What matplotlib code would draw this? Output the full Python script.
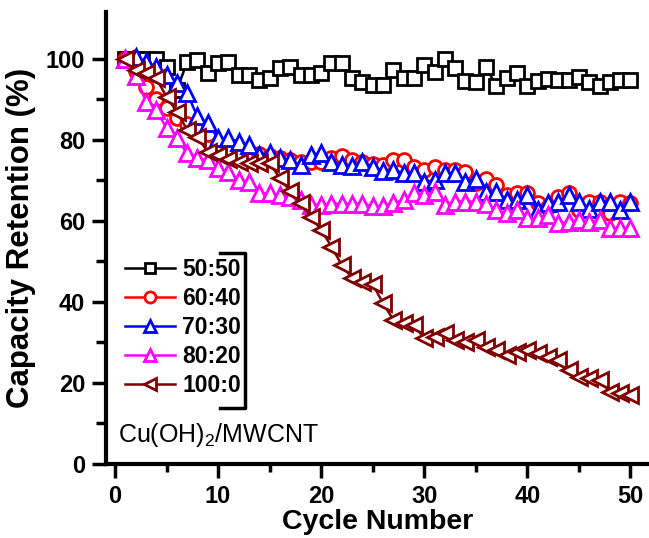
import numpy as np
import matplotlib
matplotlib.use("Agg")
import matplotlib.pyplot as plt

plt.rcParams['font.family'] = ['Liberation Sans', 'DejaVu Sans']
plt.rcParams['font.weight'] = 'bold'
plt.rcParams['mathtext.default'] = 'regular'

cycles = np.arange(1, 51)

r50_50 = [100, 100, 100, 100, 98.1, 92.3, 99.3, 99.8, 96.5, 98.9,
          99.3, 96.0, 96.0, 94.8, 95.2, 97.7, 98.1, 96.0, 96.0, 96.5,
          98.9, 98.9, 95.2, 94.4, 93.6, 93.6, 97.4, 95.4, 95.4, 98.5,
          96.9, 99.9, 97.7, 94.6, 94.4, 97.9, 93.3, 95.2, 96.5, 93.3,
          94.6, 95.0, 94.8, 94.8, 95.6, 94.2, 93.3, 94.2, 94.8, 94.8]
r60_40 = [100, 97, 93.2, 90, 88, 85.5, 84, 82.5, 81.5, 79,
          77.5, 77, 76.5, 76.5, 76, 75.5, 75, 74.5, 74.5, 74.5,
          75.5, 76, 75, 74.5, 74, 73.8, 75, 75, 73.4, 72.6,
          73.4, 72.5, 72.6, 72.2, 69.3, 70.3, 68.9, 66.5, 66.8, 66.8,
          64.4, 63.5, 66, 66.8, 62.7, 64.8, 64.8, 61.9, 64.8, 64.4]
r70_30 = [100, 100.5, 99.3, 98, 96, 94, 91.5, 85.8, 84.1, 80.4,
          80.4, 79.6, 78.8, 76.3, 76.8, 75.5, 75, 73.8, 76.3, 76.8,
          74.6, 73.8, 73.6, 74.6, 73.4, 72.4, 72.6, 71.8, 71.9, 69.7,
          70, 71.8, 71.9, 69.7, 70.3, 67.2, 67.2, 65.2, 65.2, 66.4,
          62.7, 64.4, 64.8, 66.4, 64.8, 62.9, 64.8, 64.8, 62.7, 64.8]
r80_20 = [100, 95.8, 89.5, 87.4, 82.9, 80.4, 76.7, 75.5, 75, 73,
          72.2, 70.1, 69.7, 66.8, 66.8, 66.4, 66, 65.2, 64, 64,
          64.2, 64.3, 64.2, 64.3, 63.6, 63.7, 64.4, 65.2, 66.8, 66.4,
          67.2, 64, 64.8, 64.8, 64.8, 64.2, 62.7, 61.9, 62.7, 60.7,
          60.7, 61.5, 59.4, 59.8, 60.2, 59.8, 60.2, 58.2, 58.2, 58.2]
r100_0 = [100, 97.3, 96.5, 95.2, 90.7, 87, 82.5, 80.8, 77, 76.3,
          75.2, 74.6, 74.4, 74.2, 74.4, 70.5, 67.4, 64.4, 61.1, 57.8,
          53.7, 49.1, 45.9, 45, 44.4, 39.7, 35.6, 34.7, 34.3, 31,
          31.4, 32.3, 30.6, 30.2, 30.6, 29, 28.1, 26.9, 27.7, 28.1,
          27.3, 26.5, 25.7, 23.2, 21.6, 21.2, 20.7, 17.9, 17.5, 17]

labels = ['50:50', '60:40', '70:30', '80:20', '100:0']
colors = ['black', '#ff0000', '#0000ff', '#ff00ff', '#800000']
markers = ['s', 'o', '^', '^', '<']
sizes = [9.5, 10, 11, 11, 11]
series = [r50_50, r60_40, r70_30, r80_20, r100_0]

fig = plt.figure(figsize=(6.49, 5.38), dpi=100)
ax = fig.add_axes([106/649, 74/538, 543/649, 452/538])

for y, lab, c, m, s in zip(series, labels, colors, markers, sizes):
    ax.plot(cycles, y, color=c, marker=m, mfc='white', mec=c, mew=2.0,
            ms=s, lw=1.8, label=lab)

ax.set_xlim(-0.87, 51.8)
ax.set_ylim(0, 111.6)
ax.set_xticks(np.arange(0, 51, 10))
ax.set_xticks(np.arange(5, 51, 10), minor=True)
ax.set_yticks(np.arange(0, 101, 20))
ax.set_yticks(np.arange(10, 101, 20), minor=True)

for s in ['top', 'right']:
    ax.spines[s].set_visible(False)
for s in ['left', 'bottom']:
    ax.spines[s].set_linewidth(3)

ax.tick_params(which='major', direction='out', length=10, width=2.5, labelsize=17, pad=5)
ax.tick_params(which='minor', direction='out', length=6, width=2.5)
ax.tick_params(axis='y', which='minor', length=7)

ax.set_xlabel('Cycle Number', fontsize=20.5, fontweight='bold', labelpad=1)
ax.set_ylabel('Capacity Retention (%)', fontsize=22.5, fontweight='bold', labelpad=7)

leg = ax.legend(loc='upper left', bbox_to_anchor=(0.035, 0.455), frameon=False,
                fontsize=16.5, handlelength=2.2, handletextpad=0.3,
                labelspacing=0.26, borderpad=0, borderaxespad=0, markerscale=0.8)
for t in leg.get_texts():
    t.set_fontweight('bold')

# bracket to the right of the legend
ax.plot([0.21, 0.256, 0.256, 0.21], [0.467, 0.467, 0.124, 0.124],
        color='black', lw=2.5, transform=ax.transAxes, clip_on=False)

ax.text(0.022, 0.064, r'Cu(OH)$_\mathregular{2}$/MWCNT', transform=ax.transAxes,
        fontsize=18, fontweight='normal', va='center', ha='left')

fig.savefig('out.png', dpi=100)
